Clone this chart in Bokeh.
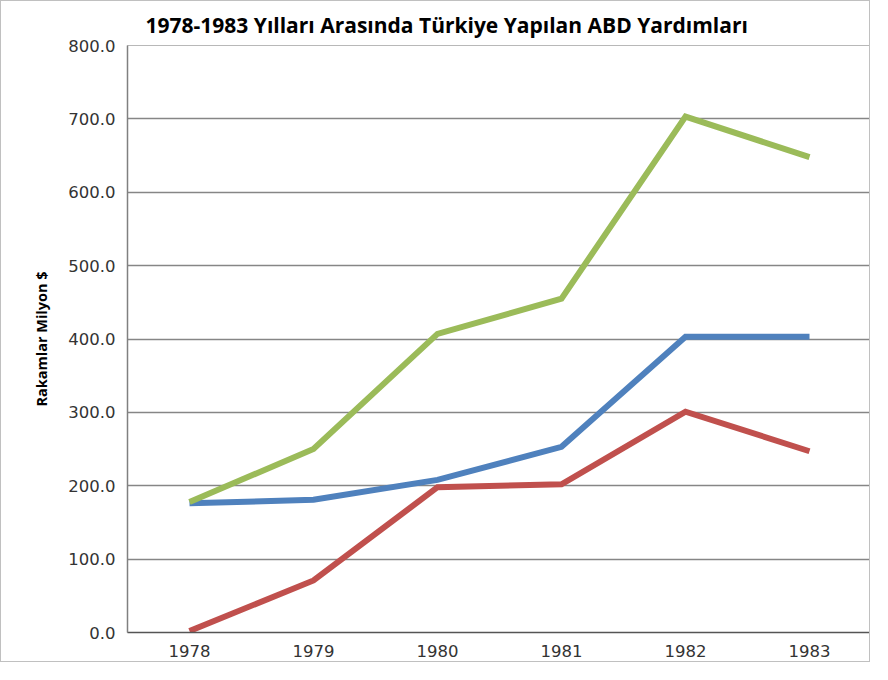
from bokeh.plotting import figure
from bokeh.models import NumeralTickFormatter, FixedTicker, Range1d
from bokeh.embed import file_html
from bokeh.resources import INLINE

years = ["1978", "1979", "1980", "1981", "1982", "1983"]
blue_vals = [176, 181, 208, 253, 403, 403]
red_vals = [2, 71, 198, 202, 301, 247]
green_vals = [178, 250, 407, 455, 703, 648]
y_ticks = [0, 100, 200, 300, 400, 500, 600, 700, 800]
title_text = "1978-1983 Yılları Arasında Türkiye Yapılan ABD Yardımları"

p = figure(x_range=years, y_range=Range1d(0, 800), width=870, height=662,
           output_backend="svg", toolbar_location=None, title=title_text,
           min_border_left=126, min_border_right=0, min_border_top=44, min_border_bottom=31)
p.styles = {"border": "1px solid #c0c0c0"}

p.title.align = "left"
p.title.offset = 18
p.title.text_font = "Open Sans"
p.title.text_font_style = "bold"
p.title.text_font_size = "21px"
p.title.text_color = "#000000"
p.title.standoff = 14

p.x_range.range_padding = 0
p.outline_line_color = "#b8b8b8"
p.outline_line_width = 1

p.xgrid.grid_line_color = None
p.ygrid.grid_line_color = "#868686"
p.ygrid.grid_line_width = 1.3
p.yaxis.ticker = FixedTicker(ticks=y_ticks)
p.yaxis.formatter = NumeralTickFormatter(format="0.0")

for ax in (p.xaxis[0], p.yaxis[0]):
    ax.axis_line_color = "#808080"
    ax.axis_line_width = 1.5
    ax.major_tick_line_color = None
    ax.minor_tick_line_color = None
    ax.major_tick_out = 0
    ax.major_tick_in = 0
    ax.major_label_text_font = "DejaVu Sans"
    ax.major_label_text_font_size = "16.5px"
    ax.major_label_text_color = "#333333"

p.xaxis.axis_line_color = "#555555"
p.yaxis.major_label_standoff = 12
p.xaxis.major_label_standoff = 12

p.yaxis.axis_label = "Rakamlar Milyon $"
p.yaxis.axis_label_text_font = "Open Sans"
p.yaxis.axis_label_text_font_style = "bold"
p.yaxis.axis_label_text_font_size = "14.5px"
p.yaxis.axis_label_text_color = "#000000"
p.yaxis.axis_label_standoff = 14

lw = 6
p.line(years, blue_vals, line_color="#4F81BD", line_width=lw, line_join="miter")
p.line(years, red_vals, line_color="#C0504D", line_width=lw, line_join="miter")
p.line(years, green_vals, line_color="#9BBB59", line_width=lw, line_join="miter")

open("out.html", "w").write(file_html(p, INLINE))
